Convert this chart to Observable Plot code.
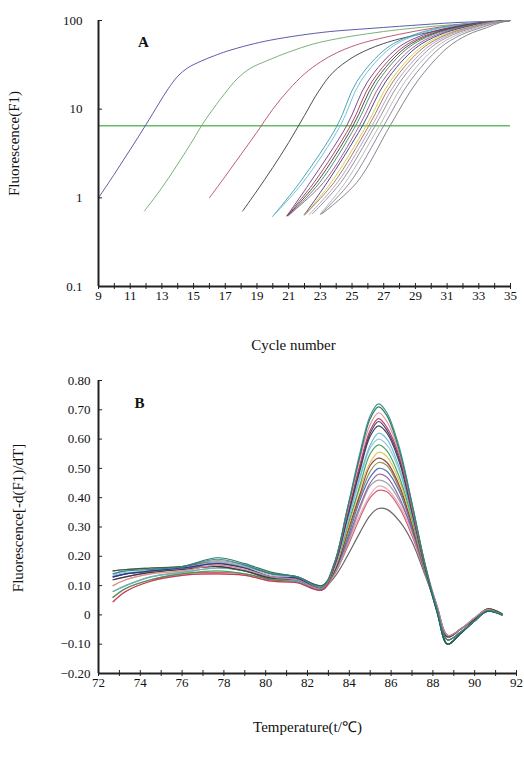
<!DOCTYPE html>
<html><head><meta charset="utf-8">
<script src="https://cdn.jsdelivr.net/npm/d3@7"></script>
<script src="https://cdn.jsdelivr.net/npm/@observablehq/plot@0.6"></script>
<style>
body{margin:0;background:#fff;width:524px;height:759px;overflow:hidden}
#chart svg{display:block}
</style></head><body><div id="chart"></div>
<script>
const FONT = '"Liberation Serif","Times New Roman",serif';

// ---------- Panel A: amplification curves ----------
const cycleTicks = d3.range(9, 36);
const cycleLabels = [9, 11, 13, 15, 17, 19, 21, 23, 25, 27, 29, 31, 33, 35];
const fluoTicks = [0.1, 1, 10, 100];
const threshold = [6.5];

const amp01 = [[9,1],[10,1.85],[11,3.5],[12,6.7],[12.8,11.5],[13.4,17],[14,23.5],[14.6,29],[15.5,35],[16.3,40],[17.1,45],[18.5,53],[19.85,60],[21.7,68],[23.6,75],[26,81],[28,86],[31.2,94],[33,97],[35,100]];
const amp02 = [[11.9,0.71],[13,1.3],[14,2.4],[15,4.6],[15.5,6.5],[16,8.8],[16.9,14.5],[17.75,22],[18.6,29],[19.6,35],[21,44],[22.5,54],[24,62],[26,71],[28,79],[30.1,86],[32.5,93],[35,100]];
const amp03 = [[16,1],[17,1.75],[18,3.1],[19,5.5],[20,10],[21,16.5],[22,25],[23,34],[24,43],[25,51],[26,58],[28,70],[30.1,82],[32.3,92],[35,100]];
const amp04 = [[18.1,0.71],[19,1.2],[20,2.2],[21,4.2],[22,8.5],[22.9,16],[23.8,26],[25,38],[26,47],[27,55],[28,62],[30.1,75],[31.6,85],[33.3,94],[35,100]];
const amp05 = [[20.0,0.62],[21.7,1.49],[24.06,6.5],[25.3,20.4],[27.2,49],[28.9,69],[30.6,83],[32.7,94],[35,100]];
const amp06 = [[20.0,0.62],[21.9,1.49],[24.26,6.5],[25.53,20.4],[27.43,49],[29.1,69],[30.77,83],[32.8,94],[35,100]];
const amp07 = [[20.9,0.63],[22.35,1.49],[24.66,6.5],[25.98,20.4],[27.88,49],[29.51,69],[31.12,83],[32.99,94],[35,100]];
const amp08 = [[20.9,0.63],[22.6,1.49],[24.9,6.5],[26.25,20.4],[28.15,49],[29.75,69],[31.33,83],[33.1,94],[35,100]];
const amp09 = [[20.9,0.62],[22.78,1.49],[25.06,6.5],[26.44,20.4],[28.34,49],[29.92,69],[31.47,83],[33.18,94],[35,100]];
const amp10 = [[21.0,0.63],[22.96,1.49],[25.23,6.5],[26.63,20.4],[28.53,49],[30.09,69],[31.62,83],[33.26,94],[35,100]];
const amp11 = [[21.0,0.64],[23.2,1.49],[25.46,6.5],[26.9,20.4],[28.8,49],[30.33,69],[31.82,83],[33.37,94],[35,100]];
const amp12 = [[22.0,0.65],[23.43,1.49],[25.66,6.5],[27.12,20.4],[29.02,49],[30.53,69],[31.99,83],[33.47,94],[35,100]];
const amp13 = [[22.0,0.64],[23.68,1.49],[25.9,6.5],[27.39,20.4],[29.29,49],[30.77,69],[32.2,83],[33.58,94],[35,100]];
const amp14 = [[22.0,0.64],[23.86,1.49],[26.06,6.5],[27.58,20.4],[29.48,49],[30.94,69],[32.34,83],[33.66,94],[35,100]];
const amp15 = [[22.3,0.65],[24.08,1.49],[26.26,6.5],[27.81,20.4],[29.71,49],[31.14,69],[32.51,83],[33.76,94],[35,100]];
const amp16 = [[22.5,0.66],[24.29,1.49],[26.46,6.5],[28.04,20.4],[29.94,49],[31.35,69],[32.69,83],[33.85,94],[35,100]];
const amp17 = [[23.0,0.66],[24.58,1.49],[26.73,6.5],[28.34,20.4],[30.24,49],[31.62,69],[32.92,83],[33.98,94],[35,100]];
const amp18 = [[23.0,0.65],[24.87,1.49],[27.0,6.5],[28.64,20.4],[30.54,49],[31.89,69],[33.15,83],[34.11,94],[35,100]];
const amp19 = [[23.1,0.66],[25.3,1.49],[27.4,6.5],[29.1,20.4],[31.0,49],[32.3,69],[33.5,83],[34.3,94],[35,100]];

const ampSeries = [amp01, amp02, amp03, amp04, amp05, amp06, amp07, amp08, amp09, amp10, amp11, amp12, amp13, amp14, amp15, amp16, amp17, amp18, amp19];
const ampColors = ["#4a4aa0", "#6aaa6a", "#b84a6a", "#3a3a44", "#3a9aa8", "#6ab8d8", "#6a3a8a", "#a83a40", "#3a3a4a", "#3a8a5a", "#a05090", "#34347e", "#d8c840", "#a07050", "#a898c8", "#8a8a8a", "#b4b4b4", "#8a7a9a", "#7a7a7a"];

// ---------- Panel B: melt curves ----------
const tempTicks = [72, 74, 76, 78, 80, 82, 84, 86, 88, 90, 92];
const tempMinor = d3.range(72, 93);
const derivTicks = [-0.2, -0.1, 0, 0.1, 0.2, 0.3, 0.4, 0.5, 0.6, 0.7, 0.8];
const meltTemps = [72.7, 73.3, 74.5, 76, 77.7, 79, 80.3, 81.5, 82.7, 83.3, 83.9, 84.5, 85.0, 85.4, 85.8, 86.4, 87.0, 87.6, 88.2, 88.7, 89.3, 90.0, 90.6, 91.3];

const melt01 = [0.14,0.15,0.155,0.165,0.19,0.17,0.14,0.13,0.095, 0.18,0.36,0.55,0.68,0.72,0.69,0.57,0.38,0.18, 0.02,-0.085,-0.06,-0.02,0.015,0.002];
const melt02 = [0.15,0.155,0.16,0.165,0.195,0.175,0.145,0.13,0.10, 0.18,0.36,0.54,0.67,0.71,0.68,0.56,0.38,0.18, 0.01,-0.10,-0.065,-0.02,0.012,0.0];
const melt03 = [0.10,0.12,0.14,0.15,0.17,0.155,0.13,0.12,0.09, 0.18,0.35,0.53,0.65,0.69,0.66,0.55,0.37,0.18, 0.03,-0.07,-0.05,-0.01,0.018,0.0];
const melt04 = [0.045,0.08,0.115,0.135,0.14,0.135,0.115,0.11,0.085, 0.17,0.34,0.51,0.63,0.67,0.64,0.54,0.36,0.17, 0.02,-0.085,-0.06,-0.02,0.015,0.002];
const melt05 = [0.13,0.14,0.15,0.16,0.175,0.16,0.13,0.125,0.09, 0.17,0.33,0.50,0.62,0.66,0.63,0.53,0.36,0.17, 0.01,-0.10,-0.065,-0.02,0.012,0.0];
const melt06 = [0.12,0.13,0.145,0.155,0.165,0.15,0.125,0.12,0.09, 0.17,0.33,0.49,0.61,0.645,0.62,0.52,0.35,0.17, 0.025,-0.075,-0.05,-0.015,0.02,0.004];
const melt07 = [0.08,0.10,0.13,0.145,0.16,0.15,0.125,0.115,0.085, 0.17,0.32,0.47,0.58,0.62,0.60,0.50,0.34,0.17, 0.03,-0.07,-0.05,-0.01,0.018,0.0];
const melt08 = [0.135,0.145,0.15,0.16,0.18,0.165,0.135,0.13,0.095, 0.16,0.31,0.46,0.57,0.60,0.58,0.49,0.34,0.17, 0.02,-0.085,-0.06,-0.02,0.015,0.002];
const melt09 = [0.06,0.09,0.12,0.14,0.15,0.14,0.12,0.115,0.09, 0.16,0.30,0.44,0.55,0.58,0.56,0.47,0.33,0.16, 0.01,-0.10,-0.065,-0.02,0.012,0.0];
const melt10 = [0.10,0.12,0.14,0.15,0.17,0.155,0.13,0.12,0.09, 0.16,0.29,0.43,0.52,0.555,0.54,0.455,0.32,0.16, 0.025,-0.075,-0.05,-0.015,0.02,0.004];
const melt11 = [0.15,0.155,0.16,0.165,0.18,0.165,0.14,0.13,0.10, 0.15,0.28,0.41,0.51,0.535,0.52,0.44,0.31,0.16, 0.03,-0.07,-0.05,-0.01,0.018,0.0];
const melt12 = [0.08,0.10,0.13,0.145,0.16,0.15,0.125,0.115,0.085, 0.15,0.27,0.40,0.49,0.52,0.51,0.43,0.31,0.16, 0.02,-0.085,-0.06,-0.02,0.015,0.002];
const melt13 = [0.13,0.14,0.15,0.16,0.175,0.16,0.13,0.125,0.09, 0.15,0.26,0.39,0.47,0.50,0.49,0.42,0.30,0.16, 0.01,-0.10,-0.065,-0.02,0.012,0.0];
const melt14 = [0.12,0.13,0.145,0.155,0.165,0.15,0.125,0.12,0.09, 0.15,0.25,0.37,0.45,0.48,0.47,0.40,0.29,0.15, 0.025,-0.075,-0.05,-0.015,0.02,0.004];
const melt15 = [0.14,0.15,0.155,0.165,0.185,0.17,0.14,0.13,0.095, 0.14,0.24,0.36,0.44,0.46,0.45,0.39,0.29,0.15, 0.02,-0.085,-0.06,-0.02,0.015,0.002];
const melt16 = [0.045,0.08,0.115,0.135,0.14,0.135,0.115,0.11,0.085, 0.14,0.24,0.34,0.41,0.44,0.43,0.375,0.28,0.15, 0.03,-0.07,-0.05,-0.01,0.018,0.0];
const melt17 = [0.06,0.09,0.12,0.14,0.145,0.14,0.12,0.115,0.09, 0.14,0.23,0.33,0.40,0.425,0.42,0.365,0.27,0.15, 0.02,-0.085,-0.06,-0.02,0.015,0.002];
const melt18 = [0.13,0.14,0.15,0.16,0.165,0.15,0.12,0.115,0.09, 0.13,0.20,0.28,0.34,0.363,0.36,0.32,0.25,0.14, 0.025,-0.075,-0.05,-0.015,0.02,0.004];

const meltSeries = [melt18, melt17, melt16, melt15, melt14, melt13, melt12, melt11, melt10, melt09, melt08, melt07, melt06, melt05, melt04, melt03, melt02, melt01];
const meltColors = ["#555555", "#d05060", "#e0a0b0", "#9a9a9a", "#8a5aa0", "#4060c0", "#8a8a40", "#8a3030", "#d8c040", "#3a9a50", "#8fc0e0", "#5bb8d0", "#333333", "#2b2f7a", "#c0304a", "#d98aa0", "#1f6b4a", "#2a8a8a"];

// ---------- build tables ----------
const ampRows = ampSeries.flatMap((pts, i) => pts.map(([c, f]) => ({id: i, c, f, color: ampColors[i]})));
const meltRows = meltSeries.flatMap((vals, i) => vals.map((v, j) => ({id: i, t: meltTemps[j], v, color: meltColors[i]})));

const styleBase = {fontFamily: FONT, fontSize: "13px", background: "white", color: "#111", overflow: "visible"};

const plotA = Plot.plot({
  width: 524, height: 355,
  marginTop: 20, marginRight: 14, marginBottom: 69, marginLeft: 98,
  style: styleBase,
  x: {domain: [9, 35], label: null},
  y: {type: "log", domain: [0.1, 100], label: null},
  color: {type: "identity"},
  marks: [
    Plot.ruleY(threshold, {stroke: "#66bb66", strokeWidth: 1.3}),
    Plot.line(ampRows, {x: "c", y: "f", z: "id", stroke: "color", strokeWidth: 1, strokeOpacity: 0.9, curve: "catmull-rom"}),
    Plot.ruleX([9], {stroke: "#222", strokeWidth: 2}),
    Plot.ruleY([0.1], {stroke: "#222", strokeWidth: 2}),
    Plot.axisX({ticks: cycleTicks, tickSize: 3, tickFormat: () => "", label: null, stroke: "#222"}),
    Plot.axisX({ticks: cycleTicks, tickSize: -3, tickFormat: () => "", label: null, stroke: "#222"}),
    Plot.axisX({ticks: cycleLabels, tickSize: 0, tickPadding: 4, tickFormat: d => String(d), label: null, fontSize: 13}),
    Plot.axisY({ticks: fluoTicks, tickSize: -4, tickFormat: () => "", label: null, stroke: "#222"}),
    Plot.axisY({ticks: fluoTicks, tickSize: 0, tickPadding: 16, tickFormat: d => String(d), label: null, fontSize: 13}),
    Plot.text(["A"], {frameAnchor: "top-left", dx: 45, dy: 22, textAnchor: "middle", lineAnchor: "middle", fontSize: 15, fontWeight: "bold"}),
    Plot.text(["Cycle number"], {frameAnchor: "bottom", dx: -11, dy: 59, lineAnchor: "middle", fontSize: 15}),
    Plot.text(["Fluorescence(F1)"], {frameAnchor: "left", dx: -84, dy: -10, rotate: -90, textAnchor: "middle", lineAnchor: "middle", fontSize: 15})
  ]
});

const plotB = Plot.plot({
  width: 524, height: 404,
  marginTop: 25, marginRight: 8, marginBottom: 86, marginLeft: 98,
  style: styleBase,
  x: {domain: [72, 92], label: null},
  y: {domain: [-0.2, 0.8], label: null},
  color: {type: "identity"},
  marks: [
    Plot.line(meltRows, {x: "t", y: "v", z: "id", stroke: "color", strokeWidth: 1.2, strokeOpacity: 0.9, curve: "catmull-rom"}),
    Plot.ruleX([72], {stroke: "#222", strokeWidth: 2}),
    Plot.ruleY([-0.2], {stroke: "#222", strokeWidth: 2}),
    Plot.axisX({ticks: tempMinor, tickSize: 3, tickFormat: () => "", label: null, stroke: "#222"}),
    Plot.axisX({ticks: tempMinor, tickSize: -3, tickFormat: () => "", label: null, stroke: "#222"}),
    Plot.axisX({ticks: tempTicks, tickSize: 0, tickPadding: 4, tickFormat: d => String(d), label: null, fontSize: 13}),
    Plot.axisY({ticks: derivTicks, tickSize: -4, tickFormat: () => "", label: null, stroke: "#222"}),
    Plot.axisY({ticks: derivTicks, tickSize: 0, tickPadding: 8, tickFormat: d => d === 0 ? "0" : (d < 0 ? "\u2212" : "") + Math.abs(d).toFixed(2), label: null, fontSize: 13}),
    Plot.text(["B"], {frameAnchor: "top-left", dx: 41, dy: 23, textAnchor: "middle", lineAnchor: "middle", fontSize: 15, fontWeight: "bold"}),
    Plot.text(["Temperature(t/\u2103)"], {frameAnchor: "bottom", dy: 54, lineAnchor: "middle", fontSize: 15}),
    Plot.text(["Fluorescence[-d(F1)/dT]"], {frameAnchor: "left", dx: -80, dy: -9, rotate: -90, textAnchor: "middle", lineAnchor: "middle", fontSize: 15})
  ]
});

const root = document.getElementById("chart");
root.appendChild(plotA);
root.appendChild(plotB);
</script></body></html>
